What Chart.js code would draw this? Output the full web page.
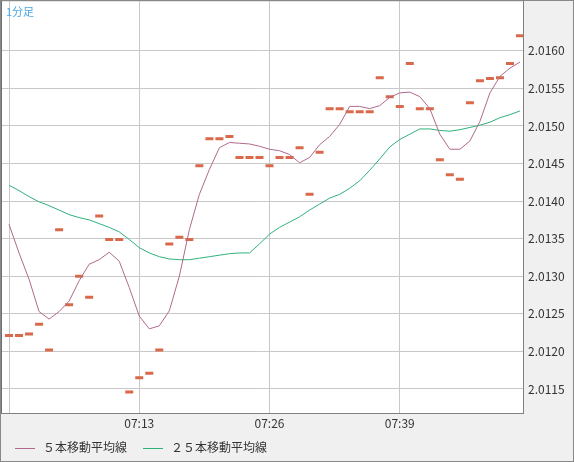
<!DOCTYPE html>
<html>
<head>
<meta charset="utf-8">
<script src="https://cdn.jsdelivr.net/npm/chart.js@4"></script>
<style>
  html, body { margin: 0; padding: 0; background: #f0f0f0; }
  #wrap { position: relative; width: 574px; height: 462px; box-sizing: border-box; border: 1px solid #888; overflow: hidden; }
  #chart { position: absolute; left: -6px; top: -12px; }
  #title { position: absolute; left: 5px; top: 2px; font: 11px "Noto Sans CJK JP"; color: #4aa8e0; }
  #legend { position: absolute; left: 14px; top: 437px; font: 12px "Noto Sans CJK JP"; color: #333; }
  #legend span.item { margin-right: 16px; }
  #legend i { display: inline-block; width: 20px; height: 1px; vertical-align: middle; margin-right: 8px; }
</style>
</head>
<body>
<div id="wrap">
  <canvas id="chart" width="578" height="454"></canvas>
  <div id="title">1分足</div>
  <div id="legend"></div>
</div>
<script>
// 07:00 - 07:51, one value per minute
var startMinute = 7 * 60;
var closes = [2.01221, 2.01221, 2.01223, 2.01236, 2.01202, 2.01362, 2.01262, 2.01300, 2.01272, 2.01380,
    2.01349, 2.01349, 2.01146, 2.01165, 2.01171, 2.01202, 2.01343, 2.01352, 2.01349, 2.01447,
    2.01483, 2.01483, 2.01486, 2.01458, 2.01458, 2.01458, 2.01447, 2.01458, 2.01458, 2.01471,
    2.01409, 2.01465, 2.01523, 2.01523, 2.01519, 2.01519, 2.01519, 2.01564, 2.01539, 2.01526,
    2.01583, 2.01523, 2.01523, 2.01455, 2.01435, 2.01429, 2.01531, 2.01560, 2.01563, 2.01564,
    2.01583, 2.01620];
var ma5 = [2.01369, 2.01331, 2.01296, 2.01253, 2.01243, 2.01253, 2.01267, 2.01294, 2.01316, 2.01322,
    2.01332, 2.01320, 2.01285, 2.01247, 2.01230, 2.01234, 2.01254, 2.01300, 2.01362, 2.01409,
    2.01442, 2.01471, 2.01478, 2.01477, 2.01476, 2.01473, 2.01469, 2.01467, 2.01462, 2.01451,
    2.01458, 2.01475, 2.01486, 2.01502, 2.01526, 2.01526, 2.01523, 2.01527, 2.01538, 2.01544,
    2.01545, 2.01539, 2.01523, 2.01489, 2.01469, 2.01469, 2.01480, 2.01506, 2.01544, 2.01566,
    2.01577, 2.01585];
var ma25 = [2.01421, 2.01414, 2.01406, 2.01399, 2.01394, 2.01388, 2.01382, 2.01378, 2.01375, 2.01370,
    2.01365, 2.01359, 2.01349, 2.01338, 2.01331, 2.01326, 2.01323, 2.01322, 2.01322, 2.01324,
    2.01326, 2.01328, 2.01330, 2.01331, 2.01331, 2.01343, 2.01356, 2.01365, 2.01372, 2.01379,
    2.01388, 2.01396, 2.01404, 2.01409, 2.01417, 2.01427, 2.01441, 2.01456, 2.01472, 2.01482,
    2.01489, 2.01496, 2.01496, 2.01494, 2.01493, 2.01495, 2.01498, 2.01501, 2.01505, 2.01511,
    2.01515, 2.01520];
var timeTicks = [0, 13, 26, 39];
var priceTicks = [2.0115, 2.0120, 2.0125, 2.0130, 2.0135, 2.0140, 2.0145, 2.0150, 2.0155, 2.0160];

function toPoints(arr) {
    return arr.map(function (v, i) { return { x: i, y: v }; });
}
function fmtTime(i) {
    var m = startMinute + i;
    var hh = Math.floor(m / 60), mm = m % 60;
    return (hh < 10 ? '0' : '') + hh + ':' + (mm < 10 ? '0' : '') + mm;
}

var plotBg = {
    id: 'plotBg',
    beforeDraw: function (chart) {
        var a = chart.chartArea, c = chart.ctx;
        c.save();
        c.fillStyle = '#ffffff';
        c.fillRect(a.left, a.top, a.right - a.left, a.bottom - a.top);
        c.restore();
    },
    afterDraw: function (chart) {
        var a = chart.chartArea, c = chart.ctx;
        c.save();
        c.strokeStyle = '#808080';
        c.lineWidth = 1;
        c.strokeRect(a.left - 0.5, a.top - 0.5, a.right - a.left + 1, a.bottom - a.top + 1);
        c.fillStyle = '#707070';
        c.fillRect(a.left - 2, a.top, 2, a.bottom - a.top);
        c.restore();
    }
};

var font = { family: '"Noto Sans CJK JP", "DejaVu Sans"', size: 12 };

var chart = new Chart(document.getElementById('chart'), {
    type: 'line',
    data: {
        datasets: [{
            label: '５本移動平均線',
            data: toPoints(ma5),
            borderColor: '#b06a8e',
            backgroundColor: '#b06a8e',
            borderWidth: 1,
            pointRadius: 0,
            tension: 0
        }, {
            label: '２５本移動平均線',
            data: toPoints(ma25),
            borderColor: '#2fb27a',
            backgroundColor: '#2fb27a',
            borderWidth: 1,
            pointRadius: 0,
            tension: 0
        }, {
            label: 'close',
            data: toPoints(closes),
            showLine: false,
            pointStyle: 'line',
            pointRadius: 4,
            pointHoverRadius: 4,
            pointBorderWidth: 3,
            borderColor: '#d9694a',
            backgroundColor: '#d9694a'
        }]
    },
    options: {
        responsive: false,
        animation: false,
        layout: { padding: { left: 3, top: 0, right: 0, bottom: 4 } },
        plugins: {
            tooltip: { enabled: false },
            legend: { display: false }
        },
        scales: {
            x: {
                type: 'linear',
                min: -0.7,
                max: 51.3,
                afterBuildTicks: function (axis) {
                    axis.ticks = timeTicks.map(function (v) { return { value: v }; });
                },
                afterFit: function (axis) { axis.height = 26; },
                ticks: {
                    autoSkip: false,
                    maxRotation: 0,
                    color: '#333',
                    font: font,
                    callback: function (v) { return v === 0 ? '' : fmtTime(v); }
                },
                grid: { color: '#c8c8c8', drawTicks: false },
                border: { display: false }
            },
            y: {
                position: 'right',
                min: 2.01118,
                max: 2.01666,
                afterBuildTicks: function (axis) {
                    axis.ticks = priceTicks.map(function (v) { return { value: v }; });
                },
                afterFit: function (axis) { axis.width = 50; },
                ticks: {
                    color: '#333',
                    font: font,
                    padding: 5,
                    callback: function (v) { return v.toFixed(4); }
                },
                grid: { color: '#c8c8c8', drawTicks: false },
                border: { display: false }
            }
        }
    },
    plugins: [plotBg]
});

// legend from the two moving-average datasets
var legendHtml = '';
chart.data.datasets.slice(0, 2).forEach(function (ds) {
    legendHtml += '<span class="item"><i style="background:' + ds.borderColor + '"></i>' + ds.label + '</span>';
});
document.getElementById('legend').innerHTML = legendHtml;
</script>
</body>
</html>
